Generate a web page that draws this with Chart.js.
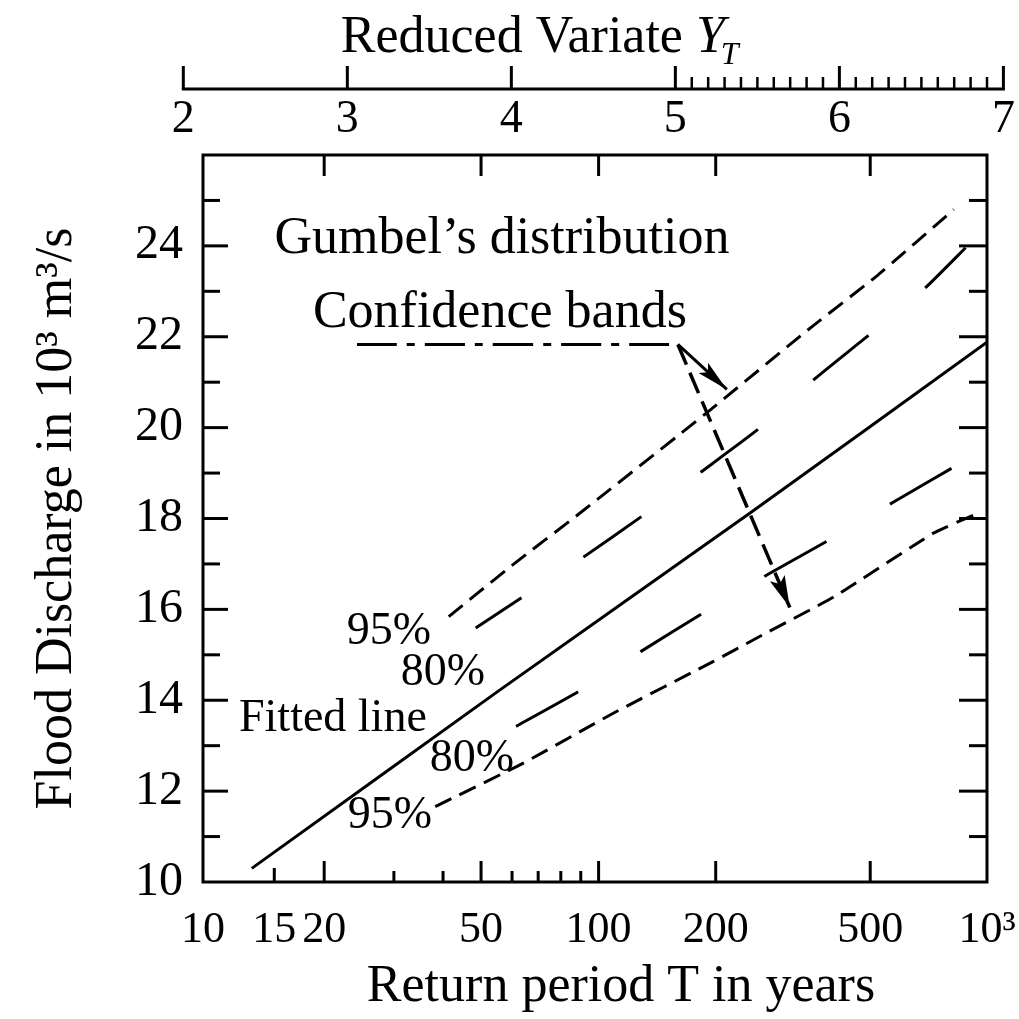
<!DOCTYPE html>
<html>
<head>
<meta charset="utf-8">
<script src="https://cdn.jsdelivr.net/npm/chart.js@4.4.1/dist/chart.umd.min.js"></script>
<style>
  html, body { margin: 0; padding: 0; background: #fff; }
  #wrap { width: 1019px; height: 1019px; }
</style>
</head>
<body>
<div id="wrap"><canvas id="gumbelChart" width="1019" height="1019"></canvas></div>
<script>
// bottom axis: return period T (years), placed on the Gumbel reduced variate
const periodLabels = [10, 15, 20, 50, 100, 200, 500, 1000];
const periodLabelText = ['10', '15', '20', '50', '100', '200', '500', '10³'];
const periodMajor = [15, 20, 50, 100, 200, 500];
const periodMinor = [30, 40, 60, 70, 80, 90];

// top axis: reduced variate Y_T
const variateMajor = [2, 3, 4, 5, 6, 7];
const variateMinor = [5.1, 5.2, 5.3, 5.4, 5.5, 5.6, 5.7, 5.8, 5.9, 6.1, 6.2, 6.3, 6.4, 6.5, 6.6, 6.7, 6.8, 6.9];

// left axis: flood discharge (10^3 m3/s)
const dischargeLabels = [10, 12, 14, 16, 18, 20, 22, 24];
const dischargeMinor = [11, 13, 15, 17, 19, 21, 23, 25];

// series, x = reduced variate, y = discharge
const fittedX = [2.54, 4.0, 5.5, 6.907];
const fittedY = [10.3, 14.19, 18.12, 21.88];
const upper95X = [3.71, 4.09, 4.49, 5.24, 5.87, 6.25, 6.71];
const upper95Y = [15.84, 16.98, 18.12, 20.32, 22.23, 23.33, 24.8];
const upper80X = [3.87, 4.14, 4.51, 4.85, 5.2, 5.55, 5.88, 6.21, 6.55, 6.78];
const upper80Y = [15.59, 16.25, 17.15, 18.03, 19.0, 19.97, 21.06, 22.05, 23.11, 23.96];
const lower80X = [3.9, 4.02, 4.48, 4.85, 5.22, 5.62, 5.97, 6.36, 6.84];
const lower80Y = [12.97, 13.24, 14.19, 15.07, 15.92, 16.8, 17.53, 18.38, 19.41];
const lower95X = [3.63, 4.15, 4.69, 5.28, 5.54, 6.0, 6.59, 6.83];
const lower95Y = [11.66, 12.61, 13.72, 14.85, 15.37, 16.28, 17.68, 18.08];

// "Confidence bands" pointer lines
const leaderX = [3.165, 5.071];
const leaderY = [21.83, 21.83];
const arrowUpX = [5.071, 5.362];
const arrowUpY = [21.83, 20.84];
const arrowDownX = [5.071, 5.736];
const arrowDownY = [21.83, 16.04];

// text written inside the plot
const noteText = ['Gumbel’s distribution', 'Confidence bands', '95%', '80%', 'Fitted line', '80%', '95%'];
const noteX = [4.026, 4.014, 3.355, 3.676, 3.022, 3.847, 3.36];
const noteY = [24.14, 22.51, 15.51, 14.6, 13.59, 12.71, 11.45];

const serif = "'Liberation Serif', 'Times New Roman', serif";

function reducedVariate(T) {
  return -Math.log(-Math.log(1 - 1 / T));
}

function toPoints(xs, ys) {
  return xs.map((v, i) => ({ x: v, y: ys[i] }));
}

function lineSet(xs, ys, dash, width, offset) {
  return {
    data: toPoints(xs, ys),
    borderColor: '#000',
    borderWidth: width || 3,
    borderDash: dash || [],
    borderDashOffset: offset || 0,
    pointRadius: 0,
    tension: 0.15,
    fill: false
  };
}

function drawArrowHead(ctx, chart, xs, ys, len, half) {
  const sx = chart.scales.x, sy = chart.scales.y;
  const n = xs.length - 1;
  const tx = sx.getPixelForValue(xs[n]), ty = sy.getPixelForValue(ys[n]);
  const px = sx.getPixelForValue(xs[n - 1]), py = sy.getPixelForValue(ys[n - 1]);
  const ang = Math.atan2(ty - py, tx - px);
  ctx.save();
  ctx.translate(tx, ty);
  ctx.rotate(ang);
  ctx.beginPath();
  ctx.moveTo(0, 0);
  ctx.lineTo(-len, -half);
  ctx.lineTo(-len * 0.8, 0);
  ctx.lineTo(-len, half);
  ctx.closePath();
  ctx.fillStyle = '#000';
  ctx.fill();
  ctx.restore();
}

const frameAndAxes = {
  id: 'frameAndAxes',
  afterDraw(chart) {
    const { ctx, chartArea: a } = chart;
    const sx = chart.scales.x, sy = chart.scales.y, st = chart.scales.xTop;
    ctx.save();
    ctx.strokeStyle = '#000';
    ctx.fillStyle = '#000';
    ctx.lineWidth = 3;
    ctx.lineCap = 'butt';
    ctx.strokeRect(a.left, a.top, a.right - a.left, a.bottom - a.top);

    const seg = (x1, y1, x2, y2) => {
      ctx.beginPath();
      ctx.moveTo(x1, y1);
      ctx.lineTo(x2, y2);
      ctx.stroke();
    };

    // inward ticks on the discharge sides
    dischargeLabels.forEach(v => {
      if (v === 10) return;
      const p = sy.getPixelForValue(v);
      seg(a.left, p, a.left + 25, p);
      seg(a.right, p, a.right - 28, p);
    });
    dischargeMinor.forEach(v => {
      const p = sy.getPixelForValue(v);
      seg(a.left, p, a.left + 17, p);
      seg(a.right, p, a.right - 18, p);
    });

    // inward ticks on the return period sides
    periodMajor.forEach(T => {
      const p = sx.getPixelForValue(reducedVariate(T));
      seg(p, a.bottom, p, a.bottom - (T === 15 ? 14 : 21));
      if (T >= 20) seg(p, a.top, p, a.top + 21);
    });
    periodMinor.forEach(T => {
      const p = sx.getPixelForValue(reducedVariate(T));
      seg(p, a.bottom, p, a.bottom - 11);
    });

    // reduced variate axis above the frame
    const axisY = a.top - 66;
    seg(st.getPixelForValue(variateMajor[0]) - 1.5, axisY, st.getPixelForValue(variateMajor[variateMajor.length - 1]) + 1.5, axisY);
    ctx.font = '46px ' + serif;
    ctx.textAlign = 'center';
    ctx.textBaseline = 'top';
    variateMajor.forEach(v => {
      const p = st.getPixelForValue(v);
      seg(p, axisY, p, axisY - 23);
      ctx.fillText(String(v), p, axisY + 8);
    });
    ctx.lineWidth = 2.5;
    variateMinor.forEach(v => {
      const p = st.getPixelForValue(v);
      seg(p, axisY, p, axisY - 12);
    });

    // axis title with italic Y_T
    ctx.textAlign = 'left';
    ctx.textBaseline = 'alphabetic';
    const tx = st.getPixelForValue(2.96);
    const base = 52;
    ctx.font = '52px ' + serif;
    const part1 = 'Reduced Variate ';
    ctx.fillText(part1, tx, base);
    let cx = tx + ctx.measureText(part1).width;
    ctx.font = 'italic 52px ' + serif;
    ctx.fillText('Y', cx, base);
    cx += ctx.measureText('Y').width - 4;
    ctx.font = 'italic 32px ' + serif;
    ctx.fillText('T', cx, base + 12);

    // notes inside the plot
    ctx.textAlign = 'center';
    ctx.textBaseline = 'middle';
    noteText.forEach((t, i) => {
      ctx.font = (i < 2 ? '52px ' : '46px ') + serif;
      ctx.fillText(t, sx.getPixelForValue(noteX[i]), sy.getPixelForValue(noteY[i]));
    });

    drawArrowHead(ctx, chart, arrowUpX, arrowUpY, 32, 7);
    drawArrowHead(ctx, chart, arrowDownX, arrowDownY, 32, 8);
    ctx.restore();
  }
};

Chart.defaults.color = '#000';
Chart.defaults.font.family = serif;

new Chart(document.getElementById('gumbelChart'), {
  type: 'scatter',
  data: {
    datasets: [
      lineSet(fittedX, fittedY, [], 3),
      lineSet(upper95X, upper95Y, [18, 9], 3),
      lineSet(upper80X, upper80Y, [71, 74], 3, 16),
      lineSet(lower80X, lower80Y, [71, 74], 3, 104),
      lineSet(lower95X, lower95Y, [18, 9], 3),
      lineSet(leaderX, leaderY, [40, 10, 8, 10], 3),
      lineSet(arrowUpX, arrowUpY, [], 3),
      lineSet(arrowDownX, arrowDownY, [22, 9], 3.5)
    ]
  },
  options: {
    responsive: false,
    animation: false,
    devicePixelRatio: 1,
    showLine: true,
    layout: { padding: { top: 155, right: 32, left: 0, bottom: 0 } },
    plugins: { legend: { display: false }, tooltip: { enabled: false } },
    scales: {
      x: {
        type: 'linear',
        position: 'bottom',
        min: reducedVariate(10),
        max: reducedVariate(1000),
        afterBuildTicks: s => { s.ticks = periodLabels.map(T => ({ value: reducedVariate(T) })); },
        afterFit: s => { s.height = 137; s.paddingLeft = 0; s.paddingRight = 0; },
        ticks: {
          autoSkip: false,
          maxRotation: 0,
          padding: 14,
          font: { size: 44, family: serif },
          callback: (v, i) => periodLabelText[i]
        },
        grid: { display: false },
        border: { display: false },
        title: {
          display: true,
          text: '    Return period T in years',
          font: { size: 52, family: serif },
          padding: { top: 0, bottom: 0 }
        }
      },
      xTop: {
        type: 'linear',
        position: 'top',
        display: false,
        min: 2.12,
        max: 6.9
      },
      y: {
        type: 'linear',
        min: 10,
        max: 26,
        afterBuildTicks: s => { s.ticks = dischargeLabels.map(v => ({ value: v })); },
        afterFit: s => { s.width = 203; s.paddingTop = 0; s.paddingBottom = 0; },
        ticks: {
          padding: 12,
          font: { size: 48, family: serif }
        },
        grid: { display: false },
        border: { display: false },
        title: {
          display: true,
          text: 'Flood Discharge in 10³ m³/s',
          font: { size: 52, family: serif },
          padding: { top: 26, bottom: 0 }
        }
      }
    }
  },
  plugins: [frameAndAxes]
});
</script>
</body>
</html>
